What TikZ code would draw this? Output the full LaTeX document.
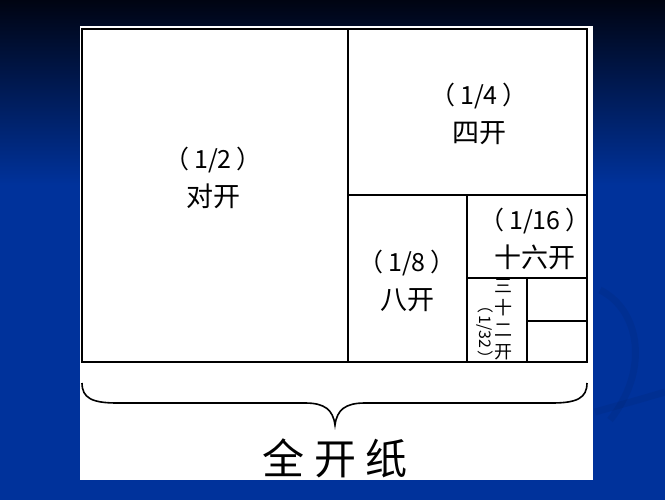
\documentclass[tikz,border=0pt]{standalone}
\usepackage{fontspec}
\setmainfont{Noto Sans CJK SC}
\definecolor{bgdark}{RGB}{0,4,18}
\definecolor{bgblue}{RGB}{0,50,155}
\newcommand{\partof}[1]{{\fontsize{25}{38}\selectfont （\hspace{5pt}#1\hspace{5pt}）}}

\begin{document}
\begin{tikzpicture}[x=1pt,y=-1pt,
    cut/.style={line width=1.5pt},
    swirl/.style={line width=7pt, bgdark, opacity=0.06},
    frac/.style={font=\fontsize{27}{38}\selectfont, align=center, inner sep=0pt},
    tall/.style={font=\fontsize{18}{22}\selectfont, align=center, inner sep=0pt}]
  \useasboundingbox (0,0) rectangle (665,500);
  % background
  \fill[bgblue] (0,0) rectangle (665,500);
  \shade[top color=bgdark, bottom color=bgblue] (0,0) rectangle (665,185);
  \draw[swirl] (600,290) .. controls (640,310) and (650,370) .. (610,420);
  \draw[swirl] (595,412) .. controls (620,405) and (645,398) .. (665,392);

  % the white sheet
  \fill[white] (80,26) rectangle (593,480);

  % the whole paper and its cuts
  \coordinate (tl) at (82,29);
  \coordinate (br) at (587,362);
  \draw[cut] (tl) rectangle (br);
  \draw[cut] (348,29) -- (348,362);
  \draw[cut] (348,195) -- (587,195);
  \draw[cut] (467,195) -- (467,362);
  \draw[cut] (467,278) -- (587,278);
  \draw[cut] (527,278) -- (527,362);
  \draw[cut] (527,321) -- (587,321);

  % sizes
  \node[frac] (half) at (213,178) {\partof{1/2}\\对开};
  \node[frac] (quarter) at (479,114) {\partof{1/4}\\四开};
  \node[frac] (eighth) at (407,281) {\partof{1/8}\\八开};
  \node[frac] (sixteenth) at (535,239) {\partof{1/16}\\十六开};
  \node[tall] (thirtytwo) at (503,320) {三\\十\\二\\开};
  \node[font=\fontsize{16}{16}\selectfont, rotate=-90, inner sep=0pt] (thirtytwofrac) at (485,332) {（\hspace{2pt}1/32\hspace{2pt}）};

  % brace under the sheet
  \coordinate (bl) at (82,383);
  \coordinate (brr) at (587,383);
  \coordinate (tip) at (335,425);
  \draw[line width=1.6pt] (bl) .. controls (82,398) and (92,403) .. (117,403) -- (305,403)
    .. controls (325,403) and (333,410) .. (tip)
    .. controls (337,410) and (345,403) .. (365,403) -- (552,403)
    .. controls (577,403) and (587,398) .. (brr);
  \node[font=\fontsize{42}{42}\selectfont, inner sep=0pt] (whole) at (335,458) {全 开 纸};
\end{tikzpicture}
\end{document}
